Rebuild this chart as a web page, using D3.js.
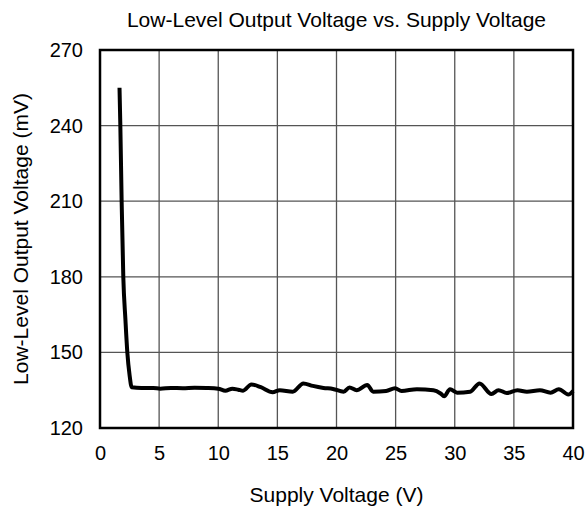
<!DOCTYPE html>
<html>
<head>
<meta charset="utf-8">
<script src="https://cdn.jsdelivr.net/npm/d3@7"></script>
<style>
  html, body { margin: 0; padding: 0; background: #fff; }
  svg { display: block; font-family: "Liberation Sans", Arial, sans-serif; }
</style>
</head>
<body>
<svg id="chart" width="588" height="507"></svg>
<script>
// Supply voltage (V) and low-level output voltage (mV)
const supplyV = [1.65, 1.72, 1.83, 1.97, 2.15, 2.31, 2.5, 2.68, 3.5, 4.5, 5.1, 6, 7, 8, 9, 10, 10.6, 11.2, 11.7, 12.1, 12.8, 13.6, 14.6, 15.2, 16.3, 17.2, 18.0, 18.9, 19.7, 20.6, 21.1, 21.7, 22.6, 23.1, 24.2, 24.95, 25.5, 26.8, 28.2, 28.8, 29.1, 29.6, 30.2, 31.3, 32.1, 33.1, 33.7, 34.4, 35.3, 36.1, 37.2, 38.1, 38.8, 39.6, 40];
const outputMv = [255, 240, 210, 180, 163, 150, 141, 136.2, 135.9, 135.9, 135.6, 135.9, 135.8, 136.0, 135.9, 135.6, 134.8, 135.6, 135.2, 134.8, 137.3, 136.2, 134.2, 135.0, 134.4, 137.7, 136.7, 135.9, 135.5, 134.4, 136.1, 135.0, 137.1, 134.4, 134.7, 135.8, 134.7, 135.4, 135.0, 133.7, 132.6, 135.4, 134.0, 134.4, 137.7, 133.5, 135.0, 133.9, 135.0, 134.4, 135.0, 134.0, 135.4, 133.3, 134.7];
const xTicks = [0, 5, 10, 15, 20, 25, 30, 35, 40];
const yTicks = [120, 150, 180, 210, 240, 270];

const svg = d3.select("#chart");
const plotL = 100, plotR = 573, plotT = 50, plotB = 428;

const x = d3.scaleLinear().domain([0, 40]).range([plotL, plotR]);
const y = d3.scaleLinear().domain([120, 270]).range([plotB, plotT]);

// Grid lines
svg.append("g")
  .selectAll("line")
  .data(xTicks.slice(1, -1))
  .join("line")
  .attr("x1", d => x(d)).attr("x2", d => x(d))
  .attr("y1", plotT).attr("y2", plotB)
  .attr("stroke", "#555").attr("stroke-width", 1.3);

svg.append("g")
  .selectAll("line")
  .data(yTicks.slice(1, -1))
  .join("line")
  .attr("x1", plotL).attr("x2", plotR)
  .attr("y1", d => y(d)).attr("y2", d => y(d))
  .attr("stroke", "#555").attr("stroke-width", 1.3);

// Axes: labels only, the frame is drawn separately
const xAxis = svg.append("g")
  .attr("transform", `translate(0,${plotB})`)
  .call(d3.axisBottom(x).tickValues(xTicks).tickSize(0).tickPadding(18));
xAxis.select(".domain").remove();
xAxis.selectAll("text").attr("font-size", 20).attr("fill", "#000")
  .attr("font-family", "Liberation Sans, Arial, sans-serif");

const yAxis = svg.append("g")
  .attr("transform", `translate(${plotL},0)`)
  .call(d3.axisLeft(y).tickValues(yTicks).tickSize(0).tickPadding(17));
yAxis.select(".domain").remove();
yAxis.selectAll("text").attr("font-size", 20).attr("fill", "#000")
  .attr("font-family", "Liberation Sans, Arial, sans-serif");

// Data curve
const line = d3.line()
  .x((d, i) => x(supplyV[i]))
  .y(d => y(d))
  .curve(d3.curveMonotoneX);

svg.append("path")
  .datum(outputMv)
  .attr("d", line)
  .attr("fill", "none")
  .attr("stroke", "#000")
  .attr("stroke-width", 4)
  .attr("stroke-linejoin", "round");

// Plot frame
svg.append("rect")
  .attr("x", plotL).attr("y", plotT)
  .attr("width", plotR - plotL).attr("height", plotB - plotT)
  .attr("fill", "none").attr("stroke", "#000").attr("stroke-width", 2.5);

// Titles
svg.append("text")
  .attr("x", (plotL + plotR) / 2).attr("y", 27)
  .attr("text-anchor", "middle").attr("font-size", 21)
  .text("Low-Level Output Voltage vs. Supply Voltage");

svg.append("text")
  .attr("x", (plotL + plotR) / 2).attr("y", 502)
  .attr("text-anchor", "middle").attr("font-size", 21)
  .text("Supply Voltage (V)");

svg.append("text")
  .attr("transform", `translate(28,${(plotT + plotB) / 2}) rotate(-90)`)
  .attr("text-anchor", "middle").attr("font-size", 21)
  .text("Low-Level Output Voltage (mV)");
</script>
</body>
</html>
